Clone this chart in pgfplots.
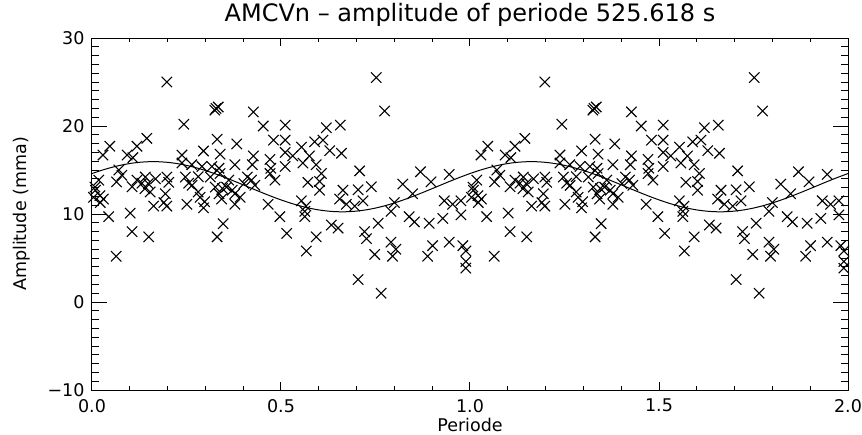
\documentclass[border=0pt]{standalone}
\usepackage{fontspec}
\setmainfont{DejaVu Sans}
\usepackage{pgfplots}
\usepackage{pgfplotstable}
\pgfplotsset{compat=1.18}

% amplitude per phase (one period, drawn twice)
\pgfplotstableread{
x y
0.198 25.0
0.243 20.2
0.145 18.6
0.047 17.7
0.119 17.7
0.029 16.7
0.093 16.7
0.238 16.7
0.238 15.8
0.044 9.7
0.101 10.1
0.106 8.0
0.150 7.4
0.064 5.2
0.198 14.2
0.203 13.6
0.194 12.3
0.190 11.3
0.163 10.9
0.198 10.9
0.251 11.1
0.247 14.2
0.256 13.5
0.154 12.5
0.132 13.5
0.119 13.85
0.106 13.1
0.141 14.2
0.071 15.0
0.079 14.4
0.018 13.85
0.009 12.7
0.004 11.9
0.022 11.3
0.108 16.4
0.065 13.65
0.008 13.06
0.021 12.09
0.030 11.7
0.149 13.45
0.140 12.87
0.168 14.0
0.295 17.16
0.291 15.4
0.317 15.4
0.295 10.7
0.286 11.9
0.265 13.26
0.313 14.2
0.326 13.06
0.331 7.4
0.331 18.5
0.325 21.8
0.334 22.16
0.328 22.0
0.427 21.6
0.453 20.0
0.511 20.1
0.383 17.96
0.480 18.4
0.339 16.8
0.378 15.6
0.427 16.6
0.471 16.2
0.511 18.4
0.511 17.0
0.264 15.6
0.281 14.24
0.339 14.6
0.422 13.85
0.431 13.26
0.471 14.6
0.484 13.85
0.511 15.4
0.281 12.5
0.356 13.06
0.378 12.3
0.392 11.9
0.343 11.7
0.298 11.4
0.378 11.1
0.466 11.1
0.497 9.7
0.347 8.9
0.515 7.8
0.424 15.6
0.473 15.2
0.336 15.2
0.362 13.85
0.411 14.2
0.345 12.9
0.371 12.7
0.402 13.45
0.336 12.3
0.752 25.5
0.774 21.7
0.620 19.8
0.657 20.1
0.589 18.2
0.611 18.4
0.554 17.6
0.629 17.2
0.660 16.9
0.558 15.8
0.593 15.6
0.607 14.6
0.708 14.9
0.571 13.6
0.602 13.7
0.602 12.7
0.664 12.7
0.704 12.75
0.739 13.1
0.655 11.7
0.673 11.1
0.717 11.5
0.554 11.5
0.563 10.3
0.563 9.7
0.633 8.75
0.651 8.4
0.593 7.4
0.567 5.8
0.721 8.0
0.726 7.2
0.757 8.95
0.748 5.4
0.704 2.55
0.765 1.0
0.531 16.6
0.575 16.6
0.566 10.9
0.695 10.9
0.869 14.8
0.945 14.5
0.822 13.4
0.897 13.65
0.848 12.3
0.800 11.3
0.791 10.3
0.839 9.7
0.853 9.1
0.892 8.95
0.932 11.5
0.954 11.1
0.976 11.5
0.928 9.5
0.976 9.9
0.791 6.8
0.804 6.0
0.795 5.2
0.901 6.4
0.888 5.2
0.945 6.8
0.981 6.4
0.989 5.8
0.989 4.6
0.989 3.85
}\phasedata

% fitted sinusoid over one period
\pgfplotstableread{
x y
0.000 14.597
0.025 14.958
0.050 15.273
0.075 15.535
0.100 15.737
0.125 15.873
0.150 15.942
0.175 15.941
0.200 15.869
0.225 15.730
0.250 15.525
0.275 15.261
0.300 14.943
0.325 14.581
0.350 14.182
0.375 13.757
0.400 13.315
0.425 12.867
0.450 12.426
0.475 12.001
0.500 11.603
0.525 11.242
0.550 10.927
0.575 10.665
0.600 10.463
0.625 10.327
0.650 10.258
0.675 10.259
0.700 10.331
0.725 10.470
0.750 10.675
0.775 10.939
0.800 11.257
0.825 11.619
0.850 12.018
0.875 12.443
0.900 12.885
0.925 13.333
0.950 13.774
0.975 14.199
1.000 14.597
}\fitcurve

\pgfplotsset{
  idlbox/.style={
    at={(0,0)}, anchor=south west,
    scale only axis,
    width=453.6pt, height=211.2pt,
    xmin=0, xmax=2, ymin=-10, ymax=30,
    axis line style={line width=0.6pt},
    tick style={line width=0.6pt, black},
    tick align=inside,
    ticklabel style={font=\fontsize{10.5}{12}\selectfont},
  }
}

\begin{document}
\begin{tikzpicture}
% x ticks, data, labels
\begin{axis}[
  idlbox,
  xtick={0,0.5,1,1.5,2},
  xticklabels={0.0,0.5,1.0,1.5,2.0},
  minor x tick num=4,
  major tick length=5pt,
  minor tick length=2.5pt,
  ytick=\empty,
  xticklabel style={yshift=-2pt},
  title={AMCVn – amplitude of periode 525.618 s},
  every axis title/.style={at={(axis description cs:0.5,1)}, anchor=base,
    yshift=10.2pt, font=\fontsize{14.4}{16}\selectfont},
  xlabel={Periode},
  every axis x label/.style={at={(axis description cs:0.5,0)}, anchor=center,
    yshift=-21pt, font=\fontsize{10.5}{12}\selectfont},
]
\addplot[only marks, mark=x, mark size=4.4pt, mark options={line width=0.65pt}, black]
  table[x=x, y=y] {\phasedata};
\addplot[only marks, mark=x, mark size=4.4pt, mark options={line width=0.65pt}, black]
  table[x expr=\thisrow{x}+1, y=y] {\phasedata};
\addplot[black, line width=0.6pt, smooth, no marks] table[x=x, y=y] {\fitcurve};
\addplot[black, line width=0.6pt, smooth, no marks] table[x expr=\thisrow{x}+1, y=y] {\fitcurve};
\end{axis}
% y ticks and label
\begin{axis}[
  idlbox,
  xtick=\empty,
  ytick={-10,0,10,20,30},
  yticklabels={−10,0,10,20,30},
  minor y tick num=9,
  major tick length=9pt,
  minor tick length=4.5pt,
  yticklabel style={xshift=-1pt},
  ylabel={Amplitude (mma)},
  every axis y label/.style={at={(axis description cs:-0.0926,0.5)}, rotate=90,
    anchor=center, font=\fontsize{10.5}{12}\selectfont},
]
\end{axis}
\pgfresetboundingbox
\path[use as bounding box] (-55.2pt,-26.4pt) rectangle (462pt,234pt);
\end{tikzpicture}
\end{document}
